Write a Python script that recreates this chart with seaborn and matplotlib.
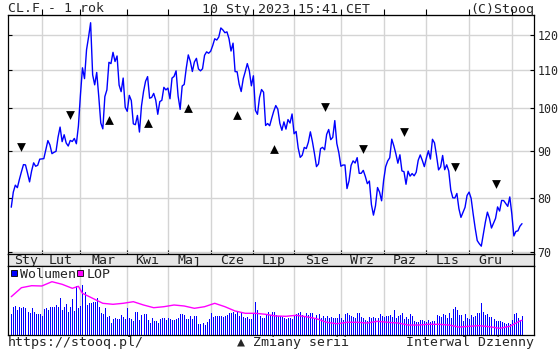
import numpy as np
import pandas as pd
import matplotlib
matplotlib.use("Agg")
import matplotlib.pyplot as plt
from matplotlib.lines import Line2D
from matplotlib.ticker import NullLocator
import seaborn as sns

# ---------------- data ----------------
start_date = "2022-01-10"
end_date = "2023-01-10"
holidays = ["2022-01-17", "2022-02-21", "2022-04-15", "2022-05-30", "2022-06-20",
            "2022-07-04", "2022-09-05", "2022-11-24", "2022-12-26", "2023-01-02"]

close = [
    # Jan 2022
    78.23, 81.22, 82.64, 82.12, 83.82, 85.43, 86.96, 86.90, 85.14, 83.31, 85.60, 87.35, 86.61, 86.82, 88.15,
    # Feb
    88.20, 88.26, 90.27, 92.31, 91.32, 89.36, 89.66, 89.88, 93.10, 95.46, 92.07, 93.66, 91.76, 91.07, 92.35,
    92.10, 92.81, 91.59, 95.72,
    # Mar
    103.41, 110.60, 107.67, 115.68, 119.40, 123.70, 108.70, 106.02, 109.33, 103.01, 96.44, 95.04, 102.98,
    104.70, 112.12, 111.76, 114.93, 112.34, 113.90, 105.96, 104.24, 107.82, 100.28,
    # Apr
    99.27, 103.28, 101.96, 96.23, 96.03, 98.26, 94.29, 100.60, 104.25, 106.95, 108.21, 102.56, 102.75,
    103.79, 102.07, 98.54, 101.70, 102.02, 105.36, 104.69,
    # May
    105.17, 102.41, 107.81, 108.26, 109.77, 103.09, 99.76, 105.71, 106.13, 110.49, 114.20, 112.40, 109.59,
    112.21, 113.23, 110.29, 109.77, 110.33, 114.09, 115.07, 114.67,
    # Jun
    115.26, 116.87, 118.87, 118.50, 119.41, 122.11, 121.51, 120.67, 120.93, 118.93, 115.31, 117.59, 109.56,
    109.52, 106.19, 104.27, 107.62, 109.57, 111.76, 109.78, 105.76,
    # Jul
    108.43, 99.50, 98.53, 102.73, 104.79, 104.09, 95.84, 96.30, 95.78, 97.59, 99.30, 100.70, 99.80, 96.35,
    94.70, 96.70, 94.98, 97.26, 96.42, 98.62,
    # Aug
    93.89, 94.42, 90.66, 88.54, 89.01, 90.76, 90.50, 91.93, 94.34, 92.09, 89.41, 86.53, 87.11, 90.50, 90.77,
    90.23, 93.74, 94.89, 92.52, 93.06, 97.01, 91.64, 89.55,
    # Sep
    86.61, 86.87, 86.88, 81.94, 83.54, 86.79, 87.78, 87.31, 88.48, 85.10, 85.11, 85.73, 84.45, 82.94, 83.49,
    78.74, 76.71, 78.50, 82.15, 81.23, 79.49,
    # Oct
    83.63, 86.52, 87.76, 88.45, 92.64, 91.13, 89.35, 87.27, 89.11, 85.61, 85.46, 82.82, 85.55, 84.51, 85.05,
    84.58, 85.32, 87.91, 89.08, 87.90, 86.53,
    # Nov
    88.37, 90.00, 88.17, 92.61, 91.79, 88.91, 85.83, 86.47, 88.96, 85.87, 86.92, 85.59, 81.64, 80.08, 80.04,
    80.95, 77.94, 76.28, 77.24, 78.20, 80.55,
    # Dec
    81.22, 79.98, 76.93, 74.25, 72.01, 71.46, 71.02, 73.17, 75.39, 77.28, 76.11, 74.29, 75.19, 76.09, 78.29,
    77.49, 79.56, 79.53, 78.96, 78.40, 80.26,
    # Jan 2023
    76.93, 72.84, 73.67, 73.77, 74.63, 75.10,
]

volume_k = [
    210, 283, 290, 250, 277, 273, 280, 267, 233, 220,
    267, 233, 210, 207, 207, 193, 260, 273, 247, 277,
    283, 283, 300, 283, 367, 250, 283, 307, 233, 280,
    360, 240, 487, 273, 287, 500, 433, 300, 320, 317,
    327, 333, 367, 283, 217, 207, 267, 183, 190, 117,
    160, 173, 157, 160, 200, 183, 160, 267, 167,
    160, 143, 227, 227, 150, 200, 207, 207, 150, 117,
    173, 140, 140, 117, 160, 167, 173, 150, 173, 160,
    147, 150, 160, 173, 207, 207, 200, 157, 160,
    187, 160, 193, 190, 113, 113, 123, 100, 133, 160,
    220, 183, 190, 190, 190, 190, 183, 190, 200, 217,
    217, 233, 207, 240, 193, 217, 183, 173, 183,
    160, 160, 207, 333, 250, 193, 173, 173, 200, 233,
    200, 233, 233, 200, 193, 193,
    183, 167, 160, 167, 173, 160, 193, 207, 217, 227,
    200, 193, 217, 200, 220, 220, 173, 200, 207, 173,
    193, 173, 187, 173, 183, 173, 167, 173, 207,
    173, 150, 207, 217, 200, 190, 183, 173, 220, 220,
    183, 173, 153, 140, 180, 173, 183, 173, 167, 207,
    193, 183, 190, 190, 200, 183, 250, 167, 190, 200,
    217, 160, 183, 160, 207, 193, 140, 133, 127, 150,
    147, 140, 133, 150, 133, 140, 140, 200, 190,
    183, 207, 200, 167, 217, 173, 260, 283, 250, 200,
    200, 140, 207, 173, 160, 200, 183, 193, 217, 223,
    317, 233, 200, 207, 183, 183, 160, 140, 140, 140,
    127, 120, 113, 123, 107, 147, 207, 217, 173, 150,
    193,
]

lop_session = [0, 5, 10, 15, 20, 25, 30, 33, 35, 40, 45, 50, 55, 60, 65, 70, 75, 80, 85, 90, 95, 100,
               105, 110, 115, 120, 125, 130, 135, 140, 145, 150, 155, 160, 165, 170, 175, 180, 185,
               190, 195, 200, 205, 210, 215, 220, 225, 230, 235, 240, 245, 250, 251]
lop_k = [383, 473, 493, 490, 533, 507, 467, 487, 417, 367, 317, 307, 317, 333, 300, 273, 283, 300, 290,
         267, 283, 317, 283, 240, 217, 217, 207, 190, 187, 197, 183, 163, 127, 113, 127, 127, 120, 137,
         127, 120, 100, 100, 107, 107, 100, 80, 87, 93, 83, 67, 87, 140, 147]

roll_up_dates = ["2022-03-21", "2022-04-18", "2022-05-16", "2022-06-21", "2022-07-18"]
roll_up_values = [97.2, 96.5, 100.2, 98.4, 90.4]
roll_down_dates = ["2022-01-18", "2022-02-22", "2022-08-22", "2022-09-19", "2022-10-17",
                   "2022-11-21", "2022-12-20"]
roll_down_values = [90.8, 98.4, 100.4, 90.4, 94.4, 86.5, 82.9]

month_labels = ["Sty", "Lut", "Mar", "Kwi", "Maj", "Cze", "Lip", "Sie", "Wrz", "Paz", "Lis", "Gru"]
y_ticks = [70, 80, 90, 100, 110, 120]

title_left = "CL.F - 1 rok"
title_mid = "10 Sty 2023 15:41 CET"
title_right = "(C)Stooq"
foot_left = "https://stooq.pl/"
foot_mid = "\u25B2 Zmiany serii"
foot_right = "Interwal Dzienny"
legend_labels = ["Wolumen", "LOP"]

# ---------------- derived ----------------
days = pd.bdate_range(start_date, end_date, freq="C", holidays=holidays)
n = min(len(days), len(close))
idx = np.arange(n)
month_starts = [i for i in range(1, len(days)) if days[i].month != days[i - 1].month]
bounds = [0] + month_starts
label_pos = [(bounds[k] + bounds[k + 1]) / 2 for k in range(len(month_labels))]
up_pos = days.get_indexer(pd.to_datetime(roll_up_dates))
down_pos = days.get_indexer(pd.to_datetime(roll_down_dates))

# ---------------- style ----------------
sns.set_style("white")
plt.rcParams["font.family"] = ["DejaVu Sans Mono"]
FS = 9.5
GRID = "#d4d4d4"
BLUE = "#0000ff"
MAG = "#ff00ff"

W, H = 560, 350
fig = plt.figure(figsize=(W / 100, H / 100), dpi=100)
fig.patch.set_facecolor("white")
L, R = 8, 534
ax = fig.add_axes([L / W, (H - 254) / H, (R - L) / W, (254 - 15) / H])
axm = fig.add_axes([L / W, (H - 266) / H, (R - L) / W, 12 / H])
axv = fig.add_axes([L / W, (H - 335) / H, (R - L) / W, 69 / H])

xlim = (-1.6, 256.9)

# --- price panel ---
df = pd.DataFrame({"i": idx, "close": close[:n]})
sns.lineplot(data=df, x="i", y="close", ax=ax, color=BLUE, lw=1.0, zorder=3)
ax.scatter(up_pos, roll_up_values, marker="^", s=40, color="black", zorder=4, linewidths=0)
ax.scatter(down_pos, roll_down_values, marker="v", s=40, color="black", zorder=4, linewidths=0)
ax.set_yscale("log")
ax.set_xlim(*xlim)
ax.set_ylim(69.65, 126.1)
ax.set_yticks(y_ticks, labels=[str(v) for v in y_ticks])
ax.yaxis.set_minor_locator(NullLocator())
ax.set_xticks(month_starts)
ax.set_xticklabels([])
ax.xaxis.set_minor_locator(NullLocator())
ax.set_xlabel("")
ax.set_ylabel("")
ax.grid(True, color=GRID, lw=1.0)
ax.set_axisbelow(True)
ax.tick_params(axis="y", which="major", direction="in", length=3, left=True, right=True,
               labelleft=False, labelright=True, labelsize=8.4, pad=2.5, color="black")
ax.tick_params(axis="x", which="major", direction="in", length=3, bottom=True, top=False,
               labelbottom=False, color="black")
sec = ax.secondary_xaxis("top")
sec.set_xticks(month_starts)
sec.set_xticklabels([])
sec.tick_params(direction="out", length=4, color="black")
for s in ax.spines.values():
    s.set_color("black"); s.set_linewidth(0.9)

# --- month strip ---
axm.set_facecolor("#e6e6e6")
axm.set_xlim(*xlim)
axm.set_ylim(0, 1)
axm.set_xticks([]); axm.set_yticks([])
for p, lab in zip(label_pos, month_labels):
    axm.text(p, 0.45, lab, ha="center", va="center", fontsize=FS, color="#222222")
for s in axm.spines.values():
    s.set_color("black"); s.set_linewidth(0.9)

# --- volume panel ---
axv.vlines(idx, 0, volume_k[:n], colors=BLUE, lw=0.5, antialiased=False, zorder=2)
ldf = pd.DataFrame({"i": lop_session, "lop": lop_k})
sns.lineplot(data=ldf, x="i", y="lop", ax=axv, color=MAG, lw=1.0, zorder=3)
axv.set_xlim(*xlim)
axv.set_ylim(0, 690)
axv.set_xticks(month_starts)
axv.set_xticklabels([])
axv.set_yticks([])
axv.set_xlabel(""); axv.set_ylabel("")
axv.grid(True, axis="x", color=GRID, lw=1.0)
axv.set_axisbelow(True)
axv.tick_params(axis="x", length=0)
for s in axv.spines.values():
    s.set_color("black"); s.set_linewidth(0.9)
handles = [Line2D([], [], marker="s", ls="", markerfacecolor=BLUE, markeredgecolor="black",
                  markeredgewidth=0.6, markersize=4.8),
           Line2D([], [], marker="s", ls="", markerfacecolor=MAG, markeredgecolor="black",
                  markeredgewidth=0.6, markersize=4.8)]
axv.legend(handles, legend_labels, loc="upper left", ncol=2, frameon=False, handlelength=0.6,
           handletextpad=0.15, columnspacing=0.05, borderaxespad=0.0, borderpad=0.15,
           prop={"family": "DejaVu Sans Mono", "size": FS})

# --- header / footer ---
ty = (H - 12.5) / H
fig.text(L / W, ty, title_left, ha="left", va="baseline", fontsize=FS)
fig.text(286 / W, ty, title_mid, ha="center", va="baseline", fontsize=FS)
fig.text(R / W, ty, title_right, ha="right", va="baseline", fontsize=FS)
fy = (H - 346) / H
fig.text(L / W, fy, foot_left, ha="left", va="baseline", fontsize=FS)
fig.text(237 / W, fy, foot_mid, ha="left", va="baseline", fontsize=FS)
fig.text(R / W, fy, foot_right, ha="right", va="baseline", fontsize=FS)

fig.savefig("out.png", dpi=100)
